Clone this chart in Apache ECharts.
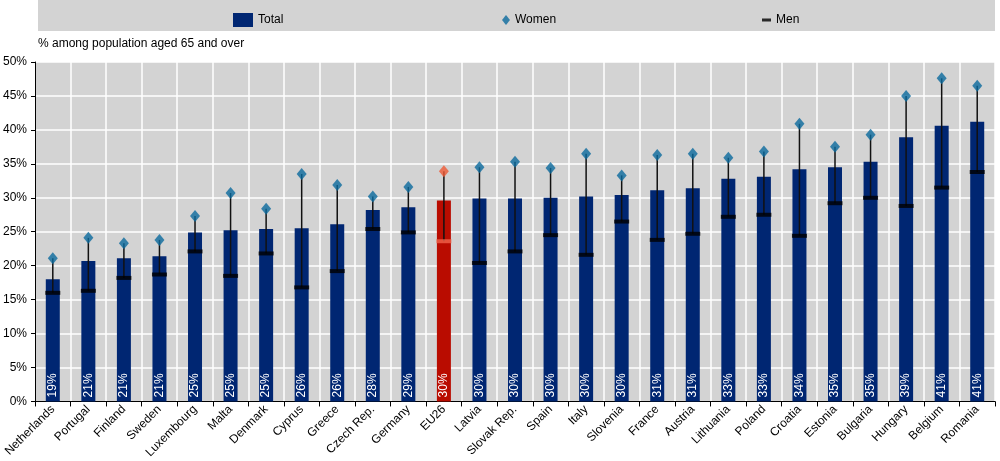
<!DOCTYPE html>
<html><head><meta charset="utf-8">
<script src="https://cdn.jsdelivr.net/npm/echarts@6/dist/echarts.min.js"></script>
<style>html,body{margin:0;padding:0;background:#fff}#c{width:1000px;height:461px}</style>
</head><body><div id="c"></div>
<script>
const categories = ["Netherlands","Portugal","Finland","Sweden","Luxembourg","Malta","Denmark","Cyprus","Greece","Czech Rep.","Germany","EU26","Latvia","Slovak Rep.","Spain","Italy","Slovenia","France","Austria","Lithuania","Poland","Croatia","Estonia","Bulgaria","Hungary","Belgium","Romania"];
const total = [18.0,20.7,21.1,21.4,24.9,25.2,25.4,25.5,26.1,28.2,28.6,29.6,29.9,29.9,30.0,30.2,30.4,31.1,31.4,32.8,33.1,34.2,34.5,35.3,38.9,40.6,41.2];
const women = [21.1,24.1,23.3,23.8,27.3,30.7,28.4,33.5,31.9,30.2,31.6,33.9,34.5,35.3,34.4,36.5,33.3,36.3,36.5,35.9,36.8,40.9,37.5,39.3,45.0,47.6,46.5];
const men = [16.0,16.3,18.2,18.7,22.1,18.5,21.8,16.8,19.2,25.4,24.9,23.6,20.4,22.1,24.5,21.6,26.5,23.8,24.7,27.2,27.5,24.4,29.2,30.0,28.8,31.5,33.8];
const barLabels = ["19%","21%","21%","21%","25%","25%","25%","26%","26%","28%","29%","30%","30%","30%","30%","30%","30%","31%","31%","33%","33%","34%","35%","35%","39%","41%","41%"];
const yTicks = [0,5,10,15,20,25,30,35,40,45,50];
const highlight = "EU26";

const NAVY = '#002672', RED = '#b90c00', BLUE = '#0b6a9e', HWOMEN = '#ef5a36', HMEN = '#f0634a';
const narrow = '"Liberation Sans Narrow","Liberation Sans",Arial,sans-serif';
const hi = categories.indexOf(highlight);

const chart = echarts.init(document.getElementById('c'), null, {renderer:'canvas'});
chart.setOption({
  animation:false,
  textStyle:{fontFamily:'"Liberation Sans",Arial,sans-serif'},
  graphic:[
    {type:'rect', left:38, top:0, shape:{width:957, height:31}, style:{fill:'#d3d3d3'}, z:-1},
    {type:'text', left:38, top:38, style:{text:'% among population aged 65 and over', font:'12px '+narrow, fill:'#000'}}
  ],
  legend:[
    {data:[{name:'Total', icon:'rect'}], left:228, top:8, itemWidth:20, itemHeight:14, itemGap:5, textStyle:{fontFamily:narrow, fontSize:12, color:'#000'}},
    {data:[{name:'Women', icon:'diamond'}], left:497, top:9, itemWidth:8, itemHeight:10, itemGap:3, textStyle:{fontFamily:narrow, fontSize:12, color:'#000'}},
    {data:[{name:'Men', icon:'rect'}], left:757, top:9, itemWidth:9, itemHeight:3, itemGap:3, textStyle:{fontFamily:narrow, fontSize:12, color:'#000'}}
  ],
  grid:{left:35, right:5, top:62, bottom:57, show:true, backgroundColor:'#d3d3d3', borderWidth:0},
  xAxis:{
    type:'category', data:categories, boundaryGap:true,
    axisLine:{lineStyle:{color:'#000', width:1}},
    axisTick:{show:true, length:5, lineStyle:{color:'#000'}},
    splitLine:{show:true, lineStyle:{color:'#fff', width:1.5}},
    axisLabel:{rotate:45, fontSize:12, color:'#000', margin:6, interval:0}
  },
  yAxis:{
    type:'value', min:yTicks[0], max:yTicks[yTicks.length-1], interval:5,
    axisLine:{show:true, lineStyle:{color:'#000', width:1}},
    axisTick:{show:true, length:4, lineStyle:{color:'#000'}},
    splitLine:{show:true, lineStyle:{color:'#fff', width:1.5}},
    axisLabel:{formatter:'{value}%', fontSize:12, color:'#000', margin:8}
  },
  series:[
    {name:'Total', type:'bar', barWidth:14, z:2, itemStyle:{color:NAVY},
     data: total.map((v,i)=>({value:v, itemStyle:{color: i===hi?RED:NAVY}})),
     label:{show:true, position:'insideBottom', rotate:90, align:'left', verticalAlign:'middle', distance:4,
            color:'#fff', fontSize:12, formatter:p=>barLabels[p.dataIndex]}},
    {name:'range', type:'custom', z:3, silent:true,
     data: categories.map((c,i)=>[i, men[i], women[i]]),
     renderItem:(params, api)=>{
       const p1 = api.coord([api.value(0), api.value(1)]);
       const p2 = api.coord([api.value(0), api.value(2)]);
       return {type:'line', shape:{x1:p1[0], y1:p1[1], x2:p2[0], y2:p2[1]}, style:{stroke:'#111', lineWidth:1.5}};
     }},
    {name:'Men', type:'scatter', symbol:'rect', symbolSize:[15,4], z:4, itemStyle:{color:'#000'},
     data: men.map((v,i)=>({value:v, itemStyle:{color: i===hi?HMEN:'#000'}}))},
    {name:'Women', type:'scatter', symbol:'diamond', symbolSize:[10,12], z:5, itemStyle:{color:BLUE},
     data: women.map((v,i)=>({value:v, itemStyle:{color: i===hi?HWOMEN:BLUE}}))}
  ]
});
</script></body></html>
